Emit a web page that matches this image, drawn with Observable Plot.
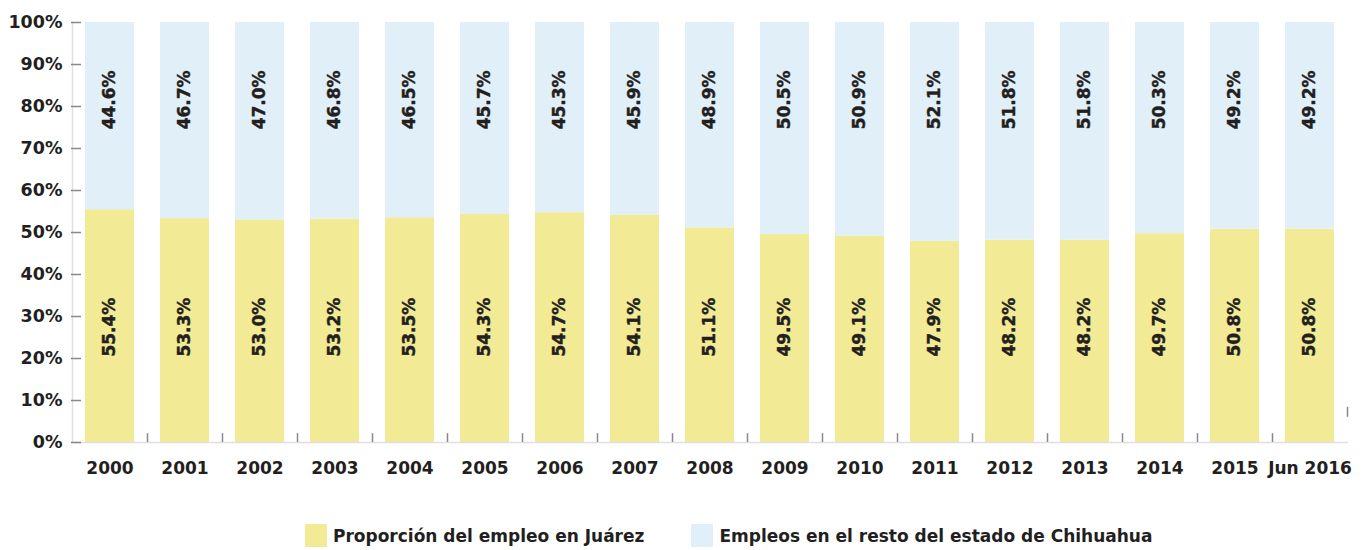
<!DOCTYPE html>
<html>
<head>
<meta charset="utf-8">
<script src="https://cdn.jsdelivr.net/npm/d3@7"></script>
<script src="https://cdn.jsdelivr.net/npm/@observablehq/plot@0.6"></script>
<style>
  body { margin: 0; background: #fff; font-family: "DejaVu Sans", sans-serif; }
  #legend { display: flex; align-items: center; padding-left: 305px; margin-top: 34px; font-weight: bold; font-size: 17px; color: #231f20; }
  .item { display: flex; align-items: center; margin-right: 47px; }
  .sw { width: 22px; height: 23px; margin-right: 6px; }
</style>
</head>
<body>
<div id="chart"></div>
<div id="legend"></div>
<script>
const years = ["2000","2001","2002","2003","2004","2005","2006","2007","2008","2009","2010","2011","2012","2013","2014","2015","Jun 2016"];
const juarez = [55.4,53.3,53.0,53.2,53.5,54.3,54.7,54.1,51.1,49.5,49.1,47.9,48.2,48.2,49.7,50.8,50.8];
const resto  = [44.6,46.7,47.0,46.8,46.5,45.7,45.3,45.9,48.9,50.5,50.9,52.1,51.8,51.8,50.3,49.2,49.2];
const seriesNames = ["Proporción del empleo en Juárez", "Empleos en el resto del estado de Chihuahua"];
const colors = ["#f2ea94", "#e1eff9"];
const yTicks = [0,10,20,30,40,50,60,70,80,90,100];

const data = [];
years.forEach((y, i) => {
  data.push({year: y, serie: seriesNames[0], value: juarez[i]});
  data.push({year: y, serie: seriesNames[1], value: resto[i]});
});

const txt = "#231f20";
const chart = Plot.plot({
  width: 1364,
  height: 490,
  marginLeft: 72,
  marginRight: 17,
  marginTop: 22,
  marginBottom: 48,
  style: {fontFamily: "DejaVu Sans, sans-serif", fontWeight: "bold", color: txt, background: "#fff"},
  x: {domain: years, paddingInner: 0.347, paddingOuter: 0.173, label: null},
  y: {domain: [0, 100], label: null},
  color: {domain: seriesNames, range: colors},
  marks: [
    Plot.barY(data, Plot.stackY({x: "year", y: "value", fill: "serie", order: seriesNames})),
    Plot.frame({anchor: "left", stroke: "#e0e0e0", strokeWidth: 1.5}),
    Plot.frame({anchor: "bottom", stroke: "#e0e0e0", strokeWidth: 1.5}),
    Plot.ruleY(yTicks, {y: d => d, stroke: "#888", strokeWidth: 1.5, insetLeft: -1, insetRight: 1364 - 72 - 17 - 9}),
    Plot.ruleX(years.slice(0, -1), {x: d => d, y1: 0, y2: 2.1, dx: 37.5, stroke: "#888", strokeWidth: 1.5}),
    Plot.ruleX(years.slice(-1), {x: d => d, y1: 6.0, y2: 8.4, dx: 37.5, stroke: "#888", strokeWidth: 1.5}),
    Plot.text(years, {x: d => d, y: 34.5, text: (d, i) => juarez[i].toFixed(1) + "%", rotate: -90, textAnchor: "end", fontSize: 17, fontWeight: "bold", fill: txt, stroke: txt, strokeWidth: 0.4}),
    Plot.text(years, {x: d => d, y: 88.6, text: (d, i) => resto[i].toFixed(1) + "%", rotate: -90, textAnchor: "end", fontSize: 17, fontWeight: "bold", fill: txt, stroke: txt, strokeWidth: 0.4}),
    Plot.axisY({ticks: yTicks, tickSize: 0, tickPadding: 10, tickFormat: d => d + "%", fontSize: 17.5, fontWeight: "bold", fill: txt}),
    Plot.axisX({tickSize: 0, tickPadding: 19, fontSize: 17, fontWeight: "bold", fill: txt})
  ]
});
document.getElementById("chart").appendChild(chart);

const legend = document.getElementById("legend");
seriesNames.forEach((name, i) => {
  const item = document.createElement("div");
  item.className = "item";
  const sw = document.createElement("div");
  sw.className = "sw";
  sw.style.background = colors[i];
  const label = document.createElement("span");
  label.textContent = name;
  item.appendChild(sw);
  item.appendChild(label);
  legend.appendChild(item);
});
</script>
</body>
</html>
